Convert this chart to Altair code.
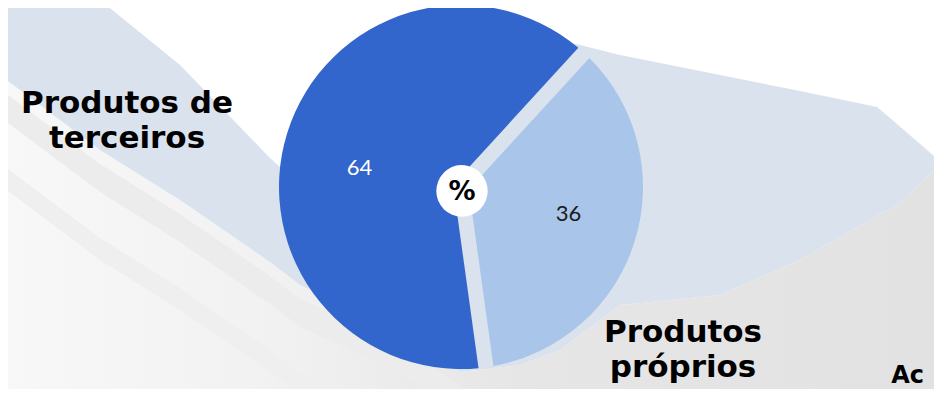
import math
import altair as alt
import pandas as pd

# ---------------- data ----------------
categories = ["Produtos próprios", "Produtos de terceiros"]
values = [36, 64]
center_symbol = "%"
label_proprios = ["Produtos", "próprios"]
label_terceiros = ["Produtos de", "terceiros"]
cut_label = "Ac"

# decorative background swoosh (reference pixel coordinates)
bg_x = [0, 100, 180, 270, 300, 400, 460, 520, 560, 620, 720, 800, 877, 897, 942]
band_top = [0, 0, 65, 158, 185, 90, 30, 35, 40, 55, 75, 91, 107, 124, 163]
band_bot = [75, 150, 200, 262, 285, 330, 372, 365, 350, 305, 295, 260, 216, 205, 163]

# ---------------- layout ----------------
OFF = 8
W, H = 926, 381
PIE_CX, PIE_CY, R = 461, 187, 182
GAP = 15
INNER = 22

DARK = "#3366cc"
LIGHT = "#a9c6ea"

xs = alt.Scale(domain=[OFF, OFF + W], nice=False, zero=False)
ys = alt.Scale(domain=[OFF, OFF + H], reverse=True, nice=False, zero=False)


def band(df, color):
    return alt.Chart(df).mark_area(color=color, clip=True, orient="vertical").encode(
        x=alt.X("x:Q", scale=xs, axis=None),
        y=alt.Y("top:Q", scale=ys, axis=None),
        y2="bot:Q",
    )


lower_df = pd.DataFrame({"x": bg_x, "top": band_bot, "bot": [400] * len(bg_x)})
stripe1_df = pd.DataFrame({"x": bg_x, "top": [b + 14 for b in band_bot], "bot": [b + 42 for b in band_bot]})
stripe2_df = pd.DataFrame({"x": bg_x, "top": [b + 88 for b in band_bot], "bot": [b + 110 for b in band_bot]})
band_df = pd.DataFrame({"x": bg_x, "top": band_top, "bot": band_bot})

lower_grad = alt.Gradient(
    gradient="linear",
    stops=[
        alt.GradientStop(color="#f8f8f8", offset=0),
        alt.GradientStop(color="#f1f1f1", offset=0.3),
        alt.GradientStop(color="#e6e6e6", offset=0.55),
        alt.GradientStop(color="#e2e2e2", offset=1),
    ],
    x1=0, x2=1, y1=0, y2=0,
)

bg_layers = [
    band(lower_df, lower_grad),
    band(stripe1_df[stripe1_df["x"] <= 460], "#ececec"),
    band(stripe2_df[stripe2_df["x"] <= 460], "#efefef"),
    band(band_df, "#d9e2ed"),
]

pie_df = pd.DataFrame({"category": categories, "value": values, "idx": list(range(len(categories)))})

start = math.radians(42.5)
pie = alt.Chart(pie_df).mark_arc(
    outerRadius=R, innerRadius=INNER, padAngle=GAP / math.hypot(INNER, R)
).encode(
    theta=alt.Theta("value:Q", stack=True, scale=alt.Scale(range=[start, start + 2 * math.pi])),
    color=alt.Color("category:N", scale=alt.Scale(domain=categories, range=[LIGHT, DARK]), legend=None),
    order=alt.Order("idx:Q"),
    x=alt.value(PIE_CX - OFF),
    y=alt.value(PIE_CY - OFF),
)

tstart = math.radians(37.5)
values_text = alt.Chart(pie_df).mark_text(radius=107, font="Lato", fontSize=22).encode(
    theta=alt.Theta("value:Q", stack=True, scale=alt.Scale(range=[tstart, tstart + 2 * math.pi])),
    text="value:Q",
    color=alt.Color("category:N", scale=alt.Scale(domain=categories, range=["#1a1a1a", "#ffffff"]), legend=None),
    order=alt.Order("idx:Q"),
    x=alt.value(464 - OFF),
    y=alt.value(191 - OFF),
)

sym_df = pd.DataFrame({"s": [center_symbol]})
hole = alt.Chart(sym_df).mark_circle(size=math.pi * 29 ** 2, color="white", opacity=1).encode(
    x=alt.value(462 - OFF), y=alt.value(191 - OFF)
)
sym = alt.Chart(sym_df).mark_text(font="DejaVu Sans", fontWeight="bold", fontSize=27, color="#000000").encode(
    text="s:N", x=alt.value(462 - OFF), y=alt.value(192 - OFF)
)

lab_style = dict(font="DejaVu Sans", fontWeight="bold", fontSize=31, color="#000000",
                 align="center", baseline="alphabetic", lineHeight=35)
lab_left = alt.Chart(pd.DataFrame({"t": [label_terceiros]})).mark_text(**lab_style).encode(
    text="t", x=alt.value(127 - OFF), y=alt.value(113 - OFF)
)
lab_right = alt.Chart(pd.DataFrame({"t": [label_proprios]})).mark_text(**lab_style).encode(
    text="t", x=alt.value(683 - OFF), y=alt.value(342 - OFF)
)
lab_cut = alt.Chart(pd.DataFrame({"t": [cut_label]})).mark_text(
    font="DejaVu Sans", fontWeight="bold", fontSize=24, color="#000000", align="right", baseline="alphabetic"
).encode(text="t:N", x=alt.value(W - 10), y=alt.value(H - 6))

chart = alt.layer(
    *bg_layers, pie, values_text, hole, sym, lab_left, lab_right, lab_cut
).resolve_scale(
    theta="independent", color="independent"
).properties(
    width=W, height=H, padding=0, autosize=alt.AutoSizeParams(type="none"), background="white"
).configure_view(stroke=None)

chart.save("out.html", embed_options={"renderer": "svg", "actions": False})
